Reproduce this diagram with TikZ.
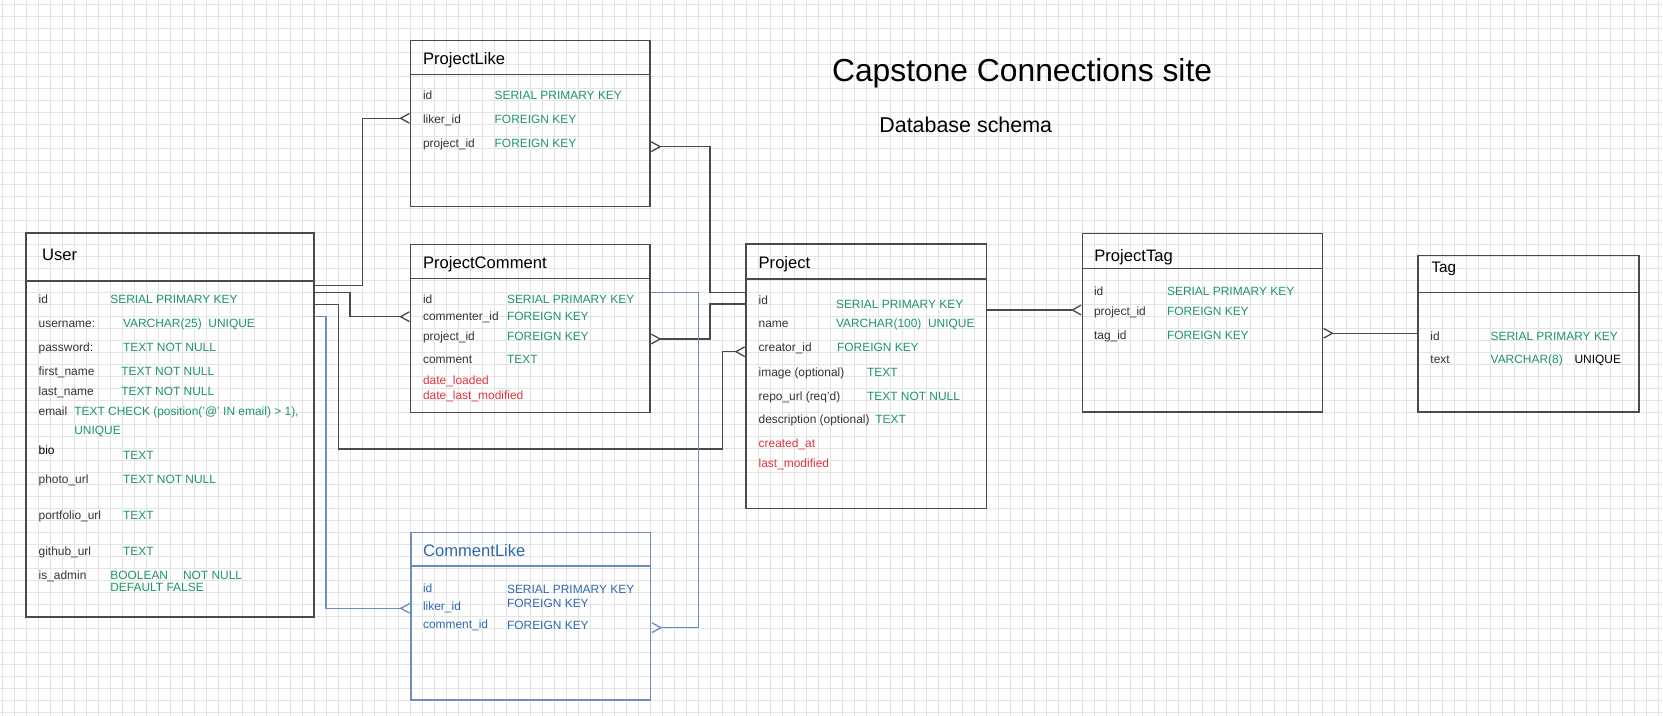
\documentclass[tikz,border=0pt]{standalone}
\usepackage{fontspec}
\setmainfont{Liberation Sans}
\usetikzlibrary{arrows.meta,fit}
\definecolor{keygreen}{HTML}{1E9664}
\definecolor{stampred}{HTML}{E2343C}
\definecolor{likeblue}{HTML}{6C8EBF}
\definecolor{liketext}{HTML}{2F67AE}
\definecolor{inkgray}{HTML}{333333}
\definecolor{linegray}{HTML}{4A4A4A}
\definecolor{gridgray}{HTML}{E4E4E4}
\tikzset{
	crow/.tip={Straight Barb[reversed,length=5pt,width=5.5pt]},
	tbl/.style={draw=linegray, line width=0.75pt, inner sep=0pt},
	hdr/.style={anchor=west, inner sep=0pt, text=black, font=\fontsize{9.45}{11}\selectfont, text height=6.8pt, text depth=0pt},
	fld/.style={anchor=west, inner sep=0pt, text=inkgray, font=\fontsize{6.8}{8}\selectfont, text height=4.9pt, text depth=0pt},
	typ/.style={fld, text=keygreen},
	stamp/.style={fld, text=stampred},
	bfld/.style={fld, text=liketext},
	link/.style={draw=linegray, line width=0.75pt},
	bluelink/.style={draw=likeblue, line width=0.75pt},
	gridline/.style={draw=gridgray, line width=0.4pt}
}

\begin{document}
\begin{tikzpicture}[x=0.02cm, y=-0.02cm]
		\useasboundingbox (0,0) rectangle (1663,716);
		\fill[white] (0,0) rectangle (1663,716);
		%%%%% GRID %%%%%
		\foreach \gx in {0,...,138} \draw[gridline] ({2.7+12*\gx},0) -- ({2.7+12*\gx},716);
		\foreach \gy in {0,...,59} \draw[gridline] (0,{4.7+12*\gy}) -- (1663,{4.7+12*\gy});
		
		%%%%% TITLE %%%%%
		\node[anchor=west, inner sep=0pt, font=\fontsize{18.1}{21}\selectfont, text height=13pt, text depth=0pt] (title) at (831.7,70) {Capstone Connections site};
		\node[anchor=west, inner sep=0pt, font=\fontsize{12.2}{14}\selectfont, text height=8.7pt, text depth=0pt] (subtitle) at (879,125) {Database schema};
		
		%%%%% USER %%%%%
		\node[tbl, fit={(26,233) (314,617)}] (user) {};
		\draw[tbl] (user.west |- 0,281) -- (user.east |- 0,281);
		\node[hdr] (user-h) at (41.7,254.3) {User};
		\node[fld] (user-id) at (38.3,299.3) {id};
		\node[typ] (user-id-t) at (110,299.3) {SERIAL PRIMARY KEY};
		\node[fld] (user-un) at (38.3,323.3) {username:};
		\node[typ] (user-un-t) at (122.7,323.3) {VARCHAR(25)~ UNIQUE};
		\node[fld] (user-pw) at (38.3,347.3) {password:};
		\node[typ] (user-pw-t) at (122.7,347.3) {TEXT NOT NULL};
		\node[fld] (user-fn) at (38.3,371) {first\_name};
		\node[typ] (user-fn-t) at (121,371) {TEXT NOT NULL};
		\node[fld] (user-ln) at (38.3,391) {last\_name};
		\node[typ] (user-ln-t) at (121,391) {TEXT NOT NULL};
		\node[fld] (user-em) at (38.3,411) {email};
		\node[typ] (user-em-t) at (74,411) {TEXT CHECK (position('@' IN email) > 1),};
		\node[typ] (user-em-u) at (74,430) {UNIQUE};
		\node[fld, text=black] (user-bio) at (38.3,450) {bio};
		\node[typ] (user-bio-t) at (122.7,455.3) {TEXT};
		\node[fld] (user-ph) at (38.3,479.3) {photo\_url};
		\node[typ] (user-ph-t) at (122.7,479.3) {TEXT NOT NULL};
		\node[fld] (user-pf) at (38.3,515.3) {portfolio\_url};
		\node[typ] (user-pf-t) at (122.7,515.3) {TEXT};
		\node[fld] (user-gh) at (38.3,551.3) {github\_url};
		\node[typ] (user-gh-t) at (122.7,551.3) {TEXT};
		\node[fld] (user-adm) at (38.3,575.3) {is\_admin};
		\node[typ] (user-adm-t) at (110,575.3) {BOOLEAN};
		\node[typ] (user-adm-n) at (182.7,575.3) {NOT NULL};
		\node[typ] (user-adm-d) at (110,586.7) {DEFAULT FALSE};
		
		%%%%% PROJECTLIKE %%%%%
		\node[tbl, fit={(410.7,40.7) (650,206.7)}] (plike) {};
		\draw[tbl] (plike.west |- 0,74.3) -- (plike.east |- 0,74.3);
		\node[hdr] (plike-h) at (422.7,58.3) {ProjectLike};
		\node[fld] (plike-id) at (422.7,95) {id};
		\node[typ] (plike-id-t) at (494.3,95) {SERIAL PRIMARY KEY};
		\node[fld] (plike-lk) at (422.7,119.3) {liker\_id};
		\node[typ] (plike-lk-t) at (494.3,119.3) {FOREIGN KEY};
		\node[fld] (plike-pj) at (422.7,143.3) {project\_id};
		\node[typ] (plike-pj-t) at (494.3,143.3) {FOREIGN KEY};
		
		%%%%% PROJECTCOMMENT %%%%%
		\node[tbl, fit={(410.7,244.7) (650,412.3)}] (pcomment) {};
		\draw[tbl] (pcomment.west |- 0,278.3) -- (pcomment.east |- 0,278.3);
		\node[hdr] (pcomment-h) at (422.7,262.7) {ProjectComment};
		\node[fld] (pcomment-id) at (422.7,299.3) {id};
		\node[typ] (pcomment-id-t) at (506.7,299.3) {SERIAL PRIMARY KEY};
		\node[fld] (pcomment-cm) at (422.7,315.7) {commenter\_id};
		\node[typ] (pcomment-cm-t) at (506.7,315.7) {FOREIGN KEY};
		\node[fld] (pcomment-pj) at (422.7,335.7) {project\_id};
		\node[typ] (pcomment-pj-t) at (506.7,335.7) {FOREIGN KEY};
		\node[fld] (pcomment-tx) at (422.7,359) {comment};
		\node[typ] (pcomment-tx-t) at (506.7,359) {TEXT};
		\node[stamp] (pcomment-dl) at (422.7,380) {date\_loaded};
		\node[stamp] (pcomment-dm) at (422.7,395) {date\_last\_modified};
		
		%%%%% COMMENTLIKE %%%%%
		\node[tbl, draw=likeblue, fit={(411,532.7) (650.7,700)}] (clike) {};
		\draw[tbl, draw=likeblue] (clike.west |- 0,566) -- (clike.east |- 0,566);
		\node[hdr, text=liketext] (clike-h) at (422.7,550.7) {CommentLike};
		\node[bfld] (clike-id) at (422.7,587.7) {id};
		\node[bfld] (clike-id-t) at (506.7,589) {SERIAL PRIMARY KEY};
		\node[bfld] (clike-lk) at (422.7,606) {liker\_id};
		\node[bfld] (clike-lk-t) at (506.7,603.3) {FOREIGN KEY};
		\node[bfld] (clike-cm) at (422.7,624) {comment\_id};
		\node[bfld] (clike-cm-t) at (506.7,625.3) {FOREIGN KEY};
		
		%%%%% PROJECT %%%%%
		\node[tbl, fit={(746,244) (986.7,508.3)}] (project) {};
		\draw[tbl] (project.west |- 0,279) -- (project.east |- 0,279);
		\node[hdr] (project-h) at (758.3,262.7) {Project};
		\node[fld] (project-id) at (758.3,300) {id};
		\node[typ] (project-id-t) at (835.7,304.3) {SERIAL PRIMARY KEY};
		\node[fld] (project-nm) at (758.3,323.3) {name};
		\node[typ] (project-nm-t) at (835.7,323.3) {VARCHAR(100)~ UNIQUE};
		\node[fld] (project-cr) at (758.3,347.3) {creator\_id};
		\node[typ] (project-cr-t) at (836.7,347.3) {FOREIGN KEY};
		\node[fld] (project-im) at (758.3,371.7) {image (optional)};
		\node[typ] (project-im-t) at (866.7,371.7) {TEXT};
		\node[fld] (project-rp) at (758.3,395.7) {repo\_url (req'd)};
		\node[typ] (project-rp-t) at (866.7,395.7) {TEXT NOT NULL};
		\node[fld] (project-ds) at (758.3,419.3) {description (optional)};
		\node[typ] (project-ds-t) at (875,419.3) {TEXT};
		\node[stamp] (project-ca) at (758.3,443.3) {created\_at};
		\node[stamp] (project-lm) at (758.3,463.3) {last\_modified};
		
		%%%%% PROJECTTAG %%%%%
		\node[tbl, fit={(1082.4,233.3) (1322.3,412)}] (ptag) {};
		\draw[tbl] (ptag.west |- 0,268.3) -- (ptag.east |- 0,268.3);
		\node[hdr] (ptag-h) at (1094,255.7) {ProjectTag};
		\node[fld] (ptag-id) at (1093.7,291) {id};
		\node[typ] (ptag-id-t) at (1166.7,291) {SERIAL PRIMARY KEY};
		\node[fld] (ptag-pj) at (1093.7,311) {project\_id};
		\node[typ] (ptag-pj-t) at (1166.7,311) {FOREIGN KEY};
		\node[fld] (ptag-tg) at (1093.7,335) {tag\_id};
		\node[typ] (ptag-tg-t) at (1166.7,335) {FOREIGN KEY};
		
		%%%%% TAG %%%%%
		\node[tbl, fit={(1418.1,255.5) (1639,412)}] (tag) {};
		\draw[tbl] (tag.west |- 0,292.3) -- (tag.east |- 0,292.3);
		\node[hdr, font=\fontsize{8.7}{10}\selectfont, text height=6.2pt] (tag-h) at (1431.2,266.7) {Tag};
		\node[fld] (tag-id) at (1430.1,335.7) {id};
		\node[typ] (tag-id-t) at (1490.3,335.7) {SERIAL PRIMARY KEY};
		\node[fld] (tag-tx) at (1430.1,359) {text};
		\node[typ] (tag-tx-t) at (1490.3,359) {VARCHAR(8)};
		\node[fld, text=black] (tag-tx-u) at (1574.2,359) {UNIQUE};
		
		%%%%% LINKS %%%%%
		\draw[link, -crow] (user.east |- 0,285.7) -- (362.3,285.7) |- (plike.west |- 0,118.3);
		\draw[link, -crow] (user.east |- 0,292.5) -- (350,292.5) |- (pcomment.west |- 0,316.7);
		\draw[link, -crow] (user.east |- 0,304.3) -- (338.3,304.3) |- (722.3,449) |- (project.west |- 0,351.7);
		\draw[bluelink, -crow] (user.east |- 0,316.7) -- (326,316.7) |- (clike.west |- 0,608.3);
		\draw[link, crow-] (plike.east |- 0,146.7) -- (710,146.7) |- (project.west |- 0,292.3);
		\draw[link, crow-] (pcomment.east |- 0,339) -- (710,339) |- (project.west |- 0,304);
		\draw[bluelink, -crow] (pcomment.east |- 0,292.3) -- (698.3,292.3) |- (clike.east |- 0,627.7);
		\draw[link, -crow] (project.east |- 0,310) -- (ptag.west |- 0,310);
		\draw[link, -crow] (tag.west |- 0,333.3) -- (ptag.east |- 0,333.3);
	\end{tikzpicture}
\end{document}
